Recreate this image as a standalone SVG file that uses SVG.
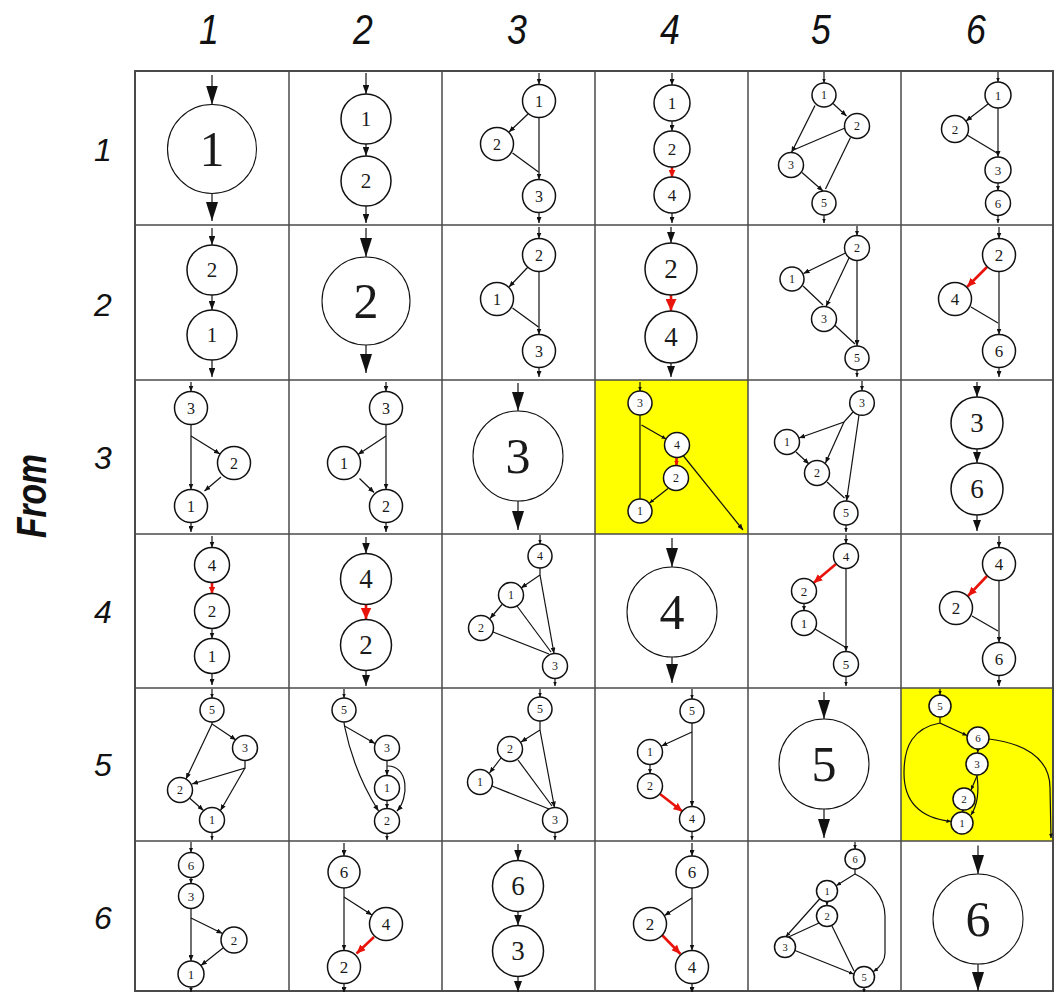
<svg xmlns="http://www.w3.org/2000/svg" width="1054" height="992" viewBox="0 0 1054 992">
<style>
.n circle{fill:#fff;stroke:#111;stroke-width:1.5}
.big circle{stroke-width:1.1}
.n text{font-family:"Liberation Serif","Times New Roman",serif;text-anchor:middle;dominant-baseline:central;fill:#1a1a1a}
.e line,.e path,.e polyline{fill:none;stroke:#111;stroke-width:1.2}
.e .r{stroke:#e8140c;stroke-width:2.6}
.hd{font-family:"Liberation Sans",Arial,sans-serif;font-style:italic;fill:#111;text-anchor:middle}
.grid{fill:none;stroke:#4a4a4a;stroke-width:1.5}
</style>
<defs>
<marker id="aB" viewBox="0 0 10 10" refX="10" refY="5" markerUnits="userSpaceOnUse" markerWidth="19" markerHeight="12" orient="auto" preserveAspectRatio="none"><path d="M0,0L10,5L0,10z" fill="#111"/></marker>
<marker id="aM2" viewBox="0 0 10 10" refX="10" refY="5" markerUnits="userSpaceOnUse" markerWidth="11" markerHeight="8" orient="auto" preserveAspectRatio="none"><path d="M0,0L10,5L0,10z" fill="#111"/></marker>
<marker id="aM" viewBox="0 0 10 10" refX="10" refY="5" markerUnits="userSpaceOnUse" markerWidth="9" markerHeight="6.5" orient="auto" preserveAspectRatio="none"><path d="M0,0L10,5L0,10z" fill="#111"/></marker>
<marker id="aS" viewBox="0 0 10 10" refX="10" refY="5" markerUnits="userSpaceOnUse" markerWidth="6" markerHeight="5" orient="auto" preserveAspectRatio="none"><path d="M0,0L10,5L0,10z" fill="#111"/></marker>
<marker id="aT" viewBox="0 0 10 10" refX="10" refY="5" markerUnits="userSpaceOnUse" markerWidth="4.5" markerHeight="4" orient="auto" preserveAspectRatio="none"><path d="M0,0L10,5L0,10z" fill="#111"/></marker>
<marker id="rL" viewBox="0 0 10 10" refX="10" refY="5" markerUnits="userSpaceOnUse" markerWidth="12" markerHeight="11" orient="auto" preserveAspectRatio="none"><path d="M0,0L10,5L0,10z" fill="#e8140c"/></marker>
<marker id="rM" viewBox="0 0 10 10" refX="10" refY="5" markerUnits="userSpaceOnUse" markerWidth="9" markerHeight="8" orient="auto" preserveAspectRatio="none"><path d="M0,0L10,5L0,10z" fill="#e8140c"/></marker>
<marker id="rS" viewBox="0 0 10 10" refX="10" refY="5" markerUnits="userSpaceOnUse" markerWidth="7" markerHeight="7" orient="auto" preserveAspectRatio="none"><path d="M0,0L10,5L0,10z" fill="#e8140c"/></marker>
<marker id="rT" viewBox="0 0 10 10" refX="10" refY="5" markerUnits="userSpaceOnUse" markerWidth="5" markerHeight="5" orient="auto" preserveAspectRatio="none"><path d="M0,0L10,5L0,10z" fill="#e8140c"/></marker>
</defs>
<rect width="1054" height="992" fill="#fff"/>
<!-- yellow cells -->
<rect x="595" y="380" width="153" height="154" fill="#ffff00"/>
<rect x="901" y="688" width="153" height="153" fill="#ffff00"/>
<!-- headers -->
<g id="col-labels" class="hd" font-size="42">
<text transform="translate(209,44) scale(0.85,1)">1</text>
<text transform="translate(363,44) scale(0.85,1)">2</text>
<text transform="translate(517,44) scale(0.85,1)">3</text>
<text transform="translate(670,44) scale(0.85,1)">4</text>
<text transform="translate(821,44) scale(0.85,1)">5</text>
<text transform="translate(976,44) scale(0.85,1)">6</text>
</g>
<g id="row-labels" class="hd" font-size="32">
<text x="103" y="161">1</text>
<text x="103" y="316">2</text>
<text x="103" y="469">3</text>
<text x="103" y="623">4</text>
<text x="103" y="776">5</text>
<text x="103" y="929">6</text>
</g>
<text id="from-label" class="hd" font-size="42" font-weight="bold" transform="translate(46,496) rotate(-90)" textLength="84" lengthAdjust="spacingAndGlyphs">From</text>
<!-- grid -->
<g id="grid" class="grid">
<rect x="135" y="71" width="918" height="920" stroke-width="2"/>
<line x1="289" y1="71" x2="289" y2="992"/><line x1="442" y1="71" x2="442" y2="992"/><line x1="595" y1="71" x2="595" y2="992"/><line x1="748" y1="71" x2="748" y2="992"/><line x1="901" y1="71" x2="901" y2="992"/>
<line x1="135" y1="225" x2="1054" y2="225"/><line x1="135" y1="380" x2="1054" y2="380"/><line x1="135" y1="534" x2="1054" y2="534"/><line x1="135" y1="688" x2="1054" y2="688"/><line x1="135" y1="841" x2="1054" y2="841"/>
</g>

<!-- ROW 1 -->
<g id="cell-r1c1" transform="translate(135,71)">
<g class="e"><line x1="77" y1="4" x2="77" y2="33.5" marker-end="url(#aB)"/><line x1="77" y1="122.5" x2="77" y2="150" marker-end="url(#aB)"/></g>
<g id="r1c1-n1" class="n big"><circle cx="77" cy="78" r="44.5"/><text x="77" y="78" font-size="50">1</text></g>
</g>
<g id="cell-r1c2" transform="translate(289,71)">
<g class="e"><line x1="77" y1="2" x2="77" y2="23" marker-end="url(#aM)"/><line x1="77" y1="73" x2="77" y2="85" marker-end="url(#aM)"/><line x1="77" y1="135" x2="77" y2="152" marker-end="url(#aM)"/></g>
<g id="r1c2-n1" class="n"><circle cx="77" cy="48" r="25"/><text x="77" y="48" font-size="21">1</text></g>
<g id="r1c2-n2" class="n"><circle cx="77" cy="110" r="25"/><text x="77" y="110" font-size="21">2</text></g>
</g>
<g id="cell-r1c3" transform="translate(442,71)">
<g class="e"><line x1="97" y1="2" x2="97" y2="13.5" marker-end="url(#aS)"/><line x1="86" y1="43" x2="67" y2="61" marker-end="url(#aS)"/><line x1="97" y1="46.5" x2="97" y2="108.5" marker-end="url(#aS)"/><line x1="70.5" y1="82" x2="96.5" y2="101"/><line x1="97" y1="141.5" x2="97" y2="152" marker-end="url(#aS)"/></g>
<g id="r1c3-n1" class="n"><circle cx="97" cy="30" r="16.5"/><text x="97" y="30" font-size="16">1</text></g>
<g id="r1c3-n2" class="n"><circle cx="55" cy="73" r="16.5"/><text x="55" y="73" font-size="16">2</text></g>
<g id="r1c3-n3" class="n"><circle cx="97" cy="125" r="16.5"/><text x="97" y="125" font-size="16">3</text></g>
</g>
<g id="cell-r1c4" transform="translate(595,71)">
<g class="e"><line x1="77" y1="2" x2="77" y2="14" marker-end="url(#aS)"/><line x1="77" y1="50" x2="77" y2="60" marker-end="url(#aS)"/><line class="r" x1="77" y1="96" x2="77" y2="106" marker-end="url(#rS)"/><line x1="77" y1="142" x2="77" y2="152" marker-end="url(#aS)"/></g>
<g id="r1c4-n1" class="n"><circle cx="77" cy="32" r="18"/><text x="77" y="32" font-size="17">1</text></g>
<g id="r1c4-n2" class="n"><circle cx="77" cy="78" r="18"/><text x="77" y="78" font-size="17">2</text></g>
<g id="r1c4-n4" class="n"><circle cx="77" cy="124" r="18"/><text x="77" y="124" font-size="17">4</text></g>
</g>
<g id="cell-r1c5" transform="translate(748,71)">
<g class="e"><line x1="76" y1="1" x2="76" y2="12" marker-end="url(#aT)"/><line x1="85" y1="32.5" x2="98.5" y2="45" marker-end="url(#aS)"/><line x1="67" y1="34.5" x2="43.5" y2="81.5" marker-end="url(#aS)"/><line x1="97" y1="57" x2="45.5" y2="79"/><line x1="54" y1="101.5" x2="75" y2="120" marker-end="url(#aS)"/><line x1="102.5" y1="66.5" x2="77.5" y2="118"/><line x1="76" y1="144" x2="76" y2="152" marker-end="url(#aT)"/></g>
<g id="r1c5-n1" class="n"><circle cx="76" cy="24" r="12"/><text x="76" y="24" font-size="12">1</text></g>
<g id="r1c5-n2" class="n"><circle cx="109" cy="55" r="12.5"/><text x="109" y="55" font-size="12">2</text></g>
<g id="r1c5-n3" class="n"><circle cx="43" cy="94" r="12.5"/><text x="43" y="94" font-size="12">3</text></g>
<g id="r1c5-n5" class="n"><circle cx="76" cy="132" r="12"/><text x="76" y="132" font-size="12">5</text></g>
</g>
<g id="cell-r1c6" transform="translate(901,71)">
<g class="e"><line x1="97" y1="1" x2="97" y2="11" marker-end="url(#aT)"/><line x1="87" y1="33" x2="65" y2="50" marker-end="url(#aS)"/><line x1="97" y1="37" x2="97" y2="86" marker-end="url(#aS)"/><line x1="66" y1="64" x2="96" y2="82"/><line x1="97" y1="112" x2="97" y2="119.5" marker-end="url(#aT)"/><line x1="97" y1="144.5" x2="97" y2="152" marker-end="url(#aT)"/></g>
<g id="r1c6-n1" class="n"><circle cx="97" cy="24" r="13"/><text x="97" y="24" font-size="13">1</text></g>
<g id="r1c6-n2" class="n"><circle cx="54" cy="58" r="13.5"/><text x="54" y="58" font-size="13">2</text></g>
<g id="r1c6-n3" class="n"><circle cx="97" cy="99" r="13"/><text x="97" y="99" font-size="13">3</text></g>
<g id="r1c6-n6" class="n"><circle cx="97" cy="132" r="12.5"/><text x="97" y="132" font-size="13">6</text></g>
</g>

<!-- ROW 2 -->
<g id="cell-r2c1" transform="translate(135,225)">
<g class="e"><line x1="77" y1="3" x2="77" y2="20" marker-end="url(#aM)"/><line x1="77" y1="70" x2="77" y2="85" marker-end="url(#aM)"/><line x1="77" y1="135" x2="77" y2="152" marker-end="url(#aM)"/></g>
<g id="r2c1-n2" class="n"><circle cx="77" cy="45" r="25"/><text x="77" y="45" font-size="21">2</text></g>
<g id="r2c1-n1" class="n"><circle cx="77" cy="110" r="25"/><text x="77" y="110" font-size="21">1</text></g>
</g>
<g id="cell-r2c2" transform="translate(289,225)">
<g class="e"><line x1="77" y1="3" x2="77" y2="32" marker-end="url(#aB)"/><line x1="77" y1="120" x2="77" y2="148" marker-end="url(#aB)"/></g>
<g id="r2c2-n2" class="n big"><circle cx="77" cy="76" r="44"/><text x="77" y="76" font-size="50">2</text></g>
</g>
<g id="cell-r2c3" transform="translate(442,225)">
<g class="e"><line x1="97" y1="2" x2="97" y2="13.5" marker-end="url(#aS)"/><line x1="86" y1="42" x2="67" y2="62" marker-end="url(#aS)"/><line x1="97" y1="46.5" x2="97" y2="109.5" marker-end="url(#aS)"/><line x1="70.5" y1="83" x2="96.5" y2="102"/><line x1="97" y1="142.5" x2="97" y2="152" marker-end="url(#aS)"/></g>
<g id="r2c3-n2" class="n"><circle cx="97" cy="30" r="16.5"/><text x="97" y="30" font-size="16">2</text></g>
<g id="r2c3-n1" class="n"><circle cx="55" cy="74" r="16.5"/><text x="55" y="74" font-size="16">1</text></g>
<g id="r2c3-n3" class="n"><circle cx="97" cy="126" r="16.5"/><text x="97" y="126" font-size="16">3</text></g>
</g>
<g id="cell-r2c4" transform="translate(595,225)">
<g class="e"><line x1="76" y1="2" x2="76" y2="18" marker-end="url(#aM2)"/><line class="r" x1="76" y1="70" x2="76" y2="86" marker-end="url(#rL)"/><line x1="76" y1="138" x2="76" y2="152" marker-end="url(#aM2)"/></g>
<g id="r2c4-n2" class="n"><circle cx="76" cy="44" r="26"/><text x="76" y="44" font-size="27">2</text></g>
<g id="r2c4-n4" class="n"><circle cx="76" cy="112" r="26"/><text x="76" y="112" font-size="27">4</text></g>
</g>
<g id="cell-r2c5" transform="translate(748,225)">
<g class="e"><line x1="109" y1="1" x2="109" y2="10.5" marker-end="url(#aT)"/><line x1="97.5" y1="28" x2="55.5" y2="48.5" marker-end="url(#aS)"/><line x1="101" y1="33" x2="78" y2="81.5" marker-end="url(#aS)"/><line x1="55" y1="61" x2="75" y2="80"/><line x1="86" y1="99.5" x2="107" y2="119"/><line x1="109" y1="35.5" x2="109" y2="121" marker-end="url(#aS)"/><line x1="109" y1="145" x2="109" y2="152" marker-end="url(#aT)"/></g>
<g id="r2c5-n2" class="n"><circle cx="109" cy="23" r="12.5"/><text x="109" y="23" font-size="12">2</text></g>
<g id="r2c5-n1" class="n"><circle cx="44" cy="54" r="12"/><text x="44" y="54" font-size="12">1</text></g>
<g id="r2c5-n3" class="n"><circle cx="76" cy="94" r="12.5"/><text x="76" y="94" font-size="12">3</text></g>
<g id="r2c5-n5" class="n"><circle cx="109" cy="133" r="12"/><text x="109" y="133" font-size="12">5</text></g>
</g>
<g id="cell-r2c6" transform="translate(901,225)">
<g class="e"><line x1="98" y1="2" x2="98" y2="13.5" marker-end="url(#aS)"/><line class="r" x1="86" y1="42" x2="66" y2="62" marker-end="url(#rM)"/><line x1="98" y1="46.5" x2="98" y2="109.5" marker-end="url(#aS)"/><line x1="70" y1="82" x2="97" y2="98"/><line x1="98" y1="142.5" x2="98" y2="152" marker-end="url(#aS)"/></g>
<g id="r2c6-n2" class="n"><circle cx="98" cy="30" r="16.5"/><text x="98" y="30" font-size="17">2</text></g>
<g id="r2c6-n4" class="n"><circle cx="54" cy="74" r="16.5"/><text x="54" y="74" font-size="17">4</text></g>
<g id="r2c6-n6" class="n"><circle cx="98" cy="126" r="16.5"/><text x="98" y="126" font-size="17">6</text></g>
</g>

<!-- ROW 3 -->
<g id="cell-r3c1" transform="translate(135,380)">
<g class="e"><line x1="56" y1="2" x2="56" y2="11.5" marker-end="url(#aS)"/><line x1="56" y1="44.5" x2="56" y2="109.5" marker-end="url(#aS)"/><line x1="56" y1="56" x2="85" y2="74" marker-end="url(#aS)"/><line x1="86" y1="97" x2="69.5" y2="111" marker-end="url(#aS)"/><line x1="56" y1="142.5" x2="56" y2="152" marker-end="url(#aS)"/></g>
<g id="r3c1-n3" class="n"><circle cx="56" cy="28" r="16.5"/><text x="56" y="28" font-size="16">3</text></g>
<g id="r3c1-n2" class="n"><circle cx="99" cy="83" r="16.5"/><text x="99" y="83" font-size="16">2</text></g>
<g id="r3c1-n1" class="n"><circle cx="56" cy="126" r="16.5"/><text x="56" y="126" font-size="16">1</text></g>
</g>
<g id="cell-r3c2" transform="translate(289,380)">
<g class="e"><line x1="97" y1="2" x2="97" y2="11.5" marker-end="url(#aS)"/><line x1="97" y1="44.5" x2="97" y2="109.5" marker-end="url(#aS)"/><line x1="97" y1="56" x2="69" y2="74.5" marker-end="url(#aS)"/><line x1="70.5" y1="98.5" x2="85" y2="112.5" marker-end="url(#aS)"/><line x1="97" y1="142.5" x2="97" y2="152" marker-end="url(#aS)"/></g>
<g id="r3c2-n3" class="n"><circle cx="97" cy="28" r="16.5"/><text x="97" y="28" font-size="16">3</text></g>
<g id="r3c2-n1" class="n"><circle cx="55" cy="83" r="16.5"/><text x="55" y="83" font-size="16">1</text></g>
<g id="r3c2-n2" class="n"><circle cx="97" cy="126" r="16.5"/><text x="97" y="126" font-size="16">2</text></g>
</g>
<g id="cell-r3c3" transform="translate(442,380)">
<g class="e"><line x1="76" y1="3" x2="76" y2="31" marker-end="url(#aB)"/><line x1="76" y1="121" x2="76" y2="150" marker-end="url(#aB)"/></g>
<g id="r3c3-n3" class="n big"><circle cx="76" cy="76" r="45"/><text x="76" y="76" font-size="50">3</text></g>
</g>
<g id="cell-r3c4" transform="translate(595,380)">
<g class="e"><line x1="45" y1="2" x2="45" y2="11" marker-end="url(#aT)"/><line x1="45" y1="35" x2="45" y2="119"/><line x1="46.5" y1="45" x2="71" y2="59" marker-end="url(#aT)"/><line class="r" x1="81.5" y1="77.5" x2="81.5" y2="85.5" stroke-width="1.6" marker-end="url(#rT)"/><line x1="73" y1="108.5" x2="54.5" y2="123" marker-end="url(#aT)"/><line x1="88.5" y1="76" x2="148" y2="150" marker-end="url(#aS)"/></g>
<g id="r3c4-n3" class="n"><circle cx="45" cy="23" r="12"/><text x="45" y="23" font-size="12">3</text></g>
<g id="r3c4-n4" class="n"><circle cx="82" cy="65" r="12.5"/><text x="82" y="65" font-size="12">4</text></g>
<g id="r3c4-n2" class="n"><circle cx="81" cy="98" r="12.5"/><text x="81" y="98" font-size="12">2</text></g>
<g id="r3c4-n1" class="n"><circle cx="45" cy="131" r="12"/><text x="45" y="131" font-size="12">1</text></g>
</g>
<g id="cell-r3c5" transform="translate(748,380)">
<g class="e"><line x1="114" y1="1" x2="114" y2="10.5" marker-end="url(#aT)"/><polyline points="105,32 96,42 51,58" marker-end="url(#aS)"/><line x1="96" y1="42" x2="77.5" y2="83" marker-end="url(#aS)"/><line x1="48" y1="72" x2="61" y2="84" marker-end="url(#aS)"/><line x1="111" y1="35" x2="98.5" y2="121" marker-end="url(#aS)"/><line x1="79" y1="102" x2="96.5" y2="118"/><line x1="98" y1="145" x2="98" y2="152" marker-end="url(#aT)"/></g>
<g id="r3c5-n3" class="n"><circle cx="114" cy="23" r="12.3"/><text x="114" y="23" font-size="12">3</text></g>
<g id="r3c5-n1" class="n"><circle cx="39" cy="62" r="12.5"/><text x="39" y="62" font-size="12">1</text></g>
<g id="r3c5-n2" class="n"><circle cx="69" cy="93" r="12.5"/><text x="69" y="93" font-size="12">2</text></g>
<g id="r3c5-n5" class="n"><circle cx="98" cy="133" r="12"/><text x="98" y="133" font-size="12">5</text></g>
</g>
<g id="cell-r3c6" transform="translate(901,380)">
<g class="e"><line x1="76" y1="2" x2="76" y2="17" marker-end="url(#aM2)"/><line x1="76" y1="69" x2="76" y2="83" marker-end="url(#aM2)"/><line x1="76" y1="135" x2="76" y2="151" marker-end="url(#aM2)"/></g>
<g id="r3c6-n3" class="n"><circle cx="76" cy="43" r="26"/><text x="76" y="43" font-size="27">3</text></g>
<g id="r3c6-n6" class="n"><circle cx="76" cy="109" r="26"/><text x="76" y="109" font-size="27">6</text></g>
</g>

<!-- ROW 4 -->
<g id="cell-r4c1" transform="translate(135,534)">
<g class="e"><line x1="77" y1="2" x2="77" y2="13.5" marker-end="url(#aS)"/><line class="r" x1="77" y1="48.5" x2="77" y2="59.5" marker-end="url(#rS)"/><line x1="77" y1="94.5" x2="77" y2="104.5" marker-end="url(#aS)"/><line x1="77" y1="139.5" x2="77" y2="151" marker-end="url(#aS)"/></g>
<g id="r4c1-n4" class="n"><circle cx="77" cy="31" r="17.5"/><text x="77" y="31" font-size="17">4</text></g>
<g id="r4c1-n2" class="n"><circle cx="77" cy="77" r="17.5"/><text x="77" y="77" font-size="17">2</text></g>
<g id="r4c1-n1" class="n"><circle cx="77" cy="122" r="17.5"/><text x="77" y="122" font-size="17">1</text></g>
</g>
<g id="cell-r4c2" transform="translate(289,534)">
<g class="e"><line x1="77" y1="3" x2="77" y2="19.5" marker-end="url(#aM2)"/><line class="r" x1="77" y1="70.5" x2="77" y2="85.5" marker-end="url(#rL)"/><line x1="77" y1="136.5" x2="77" y2="152" marker-end="url(#aM2)"/></g>
<g id="r4c2-n4" class="n"><circle cx="77" cy="45" r="25.5"/><text x="77" y="45" font-size="27">4</text></g>
<g id="r4c2-n2" class="n"><circle cx="77" cy="111" r="25.5"/><text x="77" y="111" font-size="27">2</text></g>
</g>
<g id="cell-r4c3" transform="translate(442,534)">
<g class="e"><line x1="98" y1="1" x2="98" y2="10" marker-end="url(#aT)"/><polyline points="98,34 98,41 79,54" marker-end="url(#aS)"/><line x1="98" y1="41" x2="112" y2="119.5" marker-end="url(#aS)"/><line x1="60" y1="70.5" x2="48" y2="84.5" marker-end="url(#aS)"/><line x1="75" y1="72" x2="109" y2="118"/><line x1="51" y1="98" x2="107" y2="120"/><line x1="113" y1="144.5" x2="113" y2="152" marker-end="url(#aT)"/></g>
<g id="r4c3-n4" class="n"><circle cx="98" cy="22" r="12"/><text x="98" y="22" font-size="12">4</text></g>
<g id="r4c3-n1" class="n"><circle cx="69" cy="61" r="12.5"/><text x="69" y="61" font-size="12">1</text></g>
<g id="r4c3-n2" class="n"><circle cx="39" cy="94" r="12.5"/><text x="39" y="94" font-size="12">2</text></g>
<g id="r4c3-n3" class="n"><circle cx="113" cy="132" r="12.5"/><text x="113" y="132" font-size="12">3</text></g>
</g>
<g id="cell-r4c4" transform="translate(595,534)">
<g class="e"><line x1="77" y1="4" x2="77" y2="33" marker-end="url(#aB)"/><line x1="77" y1="123" x2="77" y2="149" marker-end="url(#aB)"/></g>
<g id="r4c4-n4" class="n big"><circle cx="77" cy="78" r="45"/><text x="77" y="78" font-size="50">4</text></g>
</g>
<g id="cell-r4c5" transform="translate(748,534)">
<g class="e"><line x1="98" y1="1" x2="98" y2="9.5" marker-end="url(#aT)"/><line class="r" x1="88" y1="30" x2="65.5" y2="49" marker-end="url(#rM)"/><line x1="98" y1="34.5" x2="98" y2="117.5" marker-end="url(#aS)"/><line x1="56" y1="69.5" x2="56" y2="76.5" marker-end="url(#aT)"/><line x1="67" y1="95" x2="97" y2="113"/><line x1="98" y1="142.5" x2="98" y2="152" marker-end="url(#aT)"/></g>
<g id="r4c5-n4" class="n"><circle cx="98" cy="22" r="12.5"/><text x="98" y="22" font-size="13">4</text></g>
<g id="r4c5-n2" class="n"><circle cx="56" cy="57" r="12.5"/><text x="56" y="57" font-size="13">2</text></g>
<g id="r4c5-n1" class="n"><circle cx="56" cy="89" r="12.5"/><text x="56" y="89" font-size="13">1</text></g>
<g id="r4c5-n5" class="n"><circle cx="98" cy="130" r="12.5"/><text x="98" y="130" font-size="13">5</text></g>
</g>
<g id="cell-r4c6" transform="translate(901,534)">
<g class="e"><line x1="98" y1="2" x2="98" y2="13.5" marker-end="url(#aS)"/><line class="r" x1="86" y1="42" x2="67" y2="62" marker-end="url(#rM)"/><line x1="98" y1="46.5" x2="98" y2="108.5" marker-end="url(#aS)"/><line x1="71" y1="82" x2="97" y2="97"/><line x1="98" y1="141.5" x2="98" y2="152" marker-end="url(#aS)"/></g>
<g id="r4c6-n4" class="n"><circle cx="98" cy="30" r="16.5"/><text x="98" y="30" font-size="17">4</text></g>
<g id="r4c6-n2" class="n"><circle cx="55" cy="74" r="16.5"/><text x="55" y="74" font-size="17">2</text></g>
<g id="r4c6-n6" class="n"><circle cx="98" cy="125" r="16.5"/><text x="98" y="125" font-size="17">6</text></g>
</g>

<!-- ROW 5 -->
<g id="cell-r5c1" transform="translate(135,688)">
<g class="e"><line x1="77" y1="1" x2="77" y2="10" marker-end="url(#aT)"/><polyline points="77,34 77,36 101,52" marker-end="url(#aS)"/><line x1="77" y1="36" x2="51" y2="91" marker-end="url(#aS)"/><polyline points="110,72.5 110,80 57,96" marker-end="url(#aS)"/><line x1="110" y1="80" x2="85.5" y2="122.5" marker-end="url(#aS)"/><line x1="54.5" y1="110" x2="68.5" y2="122.5" marker-end="url(#aS)"/><line x1="77" y1="144.5" x2="77" y2="152" marker-end="url(#aT)"/></g>
<g id="r5c1-n5" class="n"><circle cx="77" cy="22" r="12"/><text x="77" y="22" font-size="12">5</text></g>
<g id="r5c1-n3" class="n"><circle cx="110" cy="60" r="12.5"/><text x="110" y="60" font-size="12">3</text></g>
<g id="r5c1-n2" class="n"><circle cx="45" cy="102" r="12.5"/><text x="45" y="102" font-size="12">2</text></g>
<g id="r5c1-n1" class="n"><circle cx="77" cy="132" r="12.5"/><text x="77" y="132" font-size="12">1</text></g>
</g>
<g id="cell-r5c2" transform="translate(289,688)">
<g class="e"><line x1="55" y1="1" x2="55" y2="10" marker-end="url(#aT)"/><polyline points="55,34 55.5,38 86,55.5" marker-end="url(#aS)"/><path d="M55.5,38 C62,70 75,100 89.5,123" marker-end="url(#aS)"/><line x1="98" y1="72.5" x2="98" y2="87.5" marker-end="url(#aS)"/><line x1="98" y1="112.5" x2="98" y2="120.5" marker-end="url(#aT)"/><path d="M98.5,78 C120,78 120,110 108,123" marker-end="url(#aS)"/><line x1="98" y1="145.5" x2="98" y2="152" marker-end="url(#aT)"/></g>
<g id="r5c2-n5" class="n"><circle cx="55" cy="22" r="12"/><text x="55" y="22" font-size="12">5</text></g>
<g id="r5c2-n3" class="n"><circle cx="98" cy="60" r="12.5"/><text x="98" y="60" font-size="12">3</text></g>
<g id="r5c2-n1" class="n"><circle cx="98" cy="100" r="12.5"/><text x="98" y="100" font-size="12">1</text></g>
<g id="r5c2-n2" class="n"><circle cx="98" cy="133" r="12.5"/><text x="98" y="133" font-size="12">2</text></g>
</g>
<g id="cell-r5c3" transform="translate(442,688)">
<g class="e"><line x1="98" y1="1" x2="98" y2="9" marker-end="url(#aT)"/><polyline points="98,33 98,42 79,54" marker-end="url(#aS)"/><line x1="98" y1="42" x2="112.5" y2="119.5" marker-end="url(#aS)"/><line x1="59" y1="70" x2="47.5" y2="85" marker-end="url(#aS)"/><line x1="76" y1="72" x2="110" y2="118"/><line x1="50" y1="98" x2="107" y2="121"/><line x1="113" y1="144.5" x2="113" y2="152" marker-end="url(#aT)"/></g>
<g id="r5c3-n5" class="n"><circle cx="98" cy="21" r="12"/><text x="98" y="21" font-size="12">5</text></g>
<g id="r5c3-n2" class="n"><circle cx="68" cy="61" r="12.5"/><text x="68" y="61" font-size="12">2</text></g>
<g id="r5c3-n1" class="n"><circle cx="38" cy="94" r="12.5"/><text x="38" y="94" font-size="12">1</text></g>
<g id="r5c3-n3" class="n"><circle cx="113" cy="132" r="12.5"/><text x="113" y="132" font-size="12">3</text></g>
</g>
<g id="cell-r5c4" transform="translate(595,688)">
<g class="e"><line x1="97" y1="1" x2="97" y2="11" marker-end="url(#aT)"/><line x1="97" y1="35" x2="97" y2="118.5" marker-end="url(#aS)"/><line x1="97" y1="44" x2="66.5" y2="58" marker-end="url(#aS)"/><line x1="55" y1="76.5" x2="55" y2="85.5" marker-end="url(#aT)"/><line class="r" x1="65" y1="106" x2="87.5" y2="123.5" marker-end="url(#rM)"/><line x1="97" y1="143.5" x2="97" y2="152" marker-end="url(#aT)"/></g>
<g id="r5c4-n5" class="n"><circle cx="97" cy="23" r="12"/><text x="97" y="23" font-size="12">5</text></g>
<g id="r5c4-n1" class="n"><circle cx="55" cy="64" r="12.5"/><text x="55" y="64" font-size="12">1</text></g>
<g id="r5c4-n2" class="n"><circle cx="55" cy="98" r="12.5"/><text x="55" y="98" font-size="12">2</text></g>
<g id="r5c4-n4" class="n"><circle cx="97" cy="131" r="12.5"/><text x="97" y="131" font-size="12">4</text></g>
</g>
<g id="cell-r5c5" transform="translate(748,688)">
<g class="e"><line x1="76" y1="4" x2="76" y2="31" marker-end="url(#aB)"/><line x1="76" y1="121" x2="76" y2="150" marker-end="url(#aB)"/></g>
<g id="r5c5-n5" class="n big"><circle cx="76" cy="76" r="45"/><text x="76" y="76" font-size="50">5</text></g>
</g>
<g id="cell-r5c6" transform="translate(901,688)">
<g class="e"><line x1="39" y1="1" x2="39" y2="7" marker-end="url(#aT)"/><polyline points="39,29 39,35 66,47.5" marker-end="url(#aT)"/><path d="M39,35 C12,40 3,58 3,85 C3,115 20,130 50,133.5" marker-end="url(#aT)"/><line x1="77" y1="61" x2="76.5" y2="65" marker-end="url(#aT)"/><polyline points="76,87 76,88 70,102" marker-end="url(#aT)"/><path d="M76,88 C78,102 77,116 70,127" marker-end="url(#aT)"/><line x1="62" y1="121.5" x2="61.5" y2="124.5" marker-end="url(#aT)"/><path d="M88,51 C120,55 149,68 149,100 L150,150" marker-end="url(#aT)"/></g>
<g id="r5c6-n5" class="n"><circle cx="39" cy="18" r="11"/><text x="39" y="18" font-size="11">5</text></g>
<g id="r5c6-n6" class="n"><circle cx="77" cy="50" r="11"/><text x="77" y="50" font-size="11">6</text></g>
<g id="r5c6-n3" class="n"><circle cx="76" cy="76" r="11"/><text x="76" y="76" font-size="11">3</text></g>
<g id="r5c6-n2" class="n"><circle cx="63" cy="111" r="11"/><text x="63" y="111" font-size="11">2</text></g>
<g id="r5c6-n1" class="n"><circle cx="61" cy="135" r="11"/><text x="61" y="135" font-size="11">1</text></g>
</g>

<!-- ROW 6 -->
<g id="cell-r6c1" transform="translate(135,841)">
<g class="e"><line x1="56" y1="1" x2="56" y2="11.5" marker-end="url(#aT)"/><line x1="56" y1="36.5" x2="56" y2="42.5" marker-end="url(#aT)"/><line x1="56" y1="67.5" x2="56" y2="120" marker-end="url(#aS)"/><line x1="56" y1="77" x2="87.5" y2="92.5" marker-end="url(#aS)"/><line x1="88" y1="107" x2="66" y2="124.5" marker-end="url(#aS)"/><line x1="56" y1="146" x2="56" y2="151" marker-end="url(#aT)"/></g>
<g id="r6c1-n6" class="n"><circle cx="56" cy="24" r="12.5"/><text x="56" y="24" font-size="13">6</text></g>
<g id="r6c1-n3" class="n"><circle cx="56" cy="55" r="12.5"/><text x="56" y="55" font-size="13">3</text></g>
<g id="r6c1-n2" class="n"><circle cx="99" cy="99" r="13"/><text x="99" y="99" font-size="13">2</text></g>
<g id="r6c1-n1" class="n"><circle cx="56" cy="133" r="13"/><text x="56" y="133" font-size="13">1</text></g>
</g>
<g id="cell-r6c2" transform="translate(289,841)">
<g class="e"><line x1="55" y1="2" x2="55" y2="15" marker-end="url(#aS)"/><line x1="55" y1="47" x2="55" y2="109.5" marker-end="url(#aS)"/><line x1="55" y1="56" x2="83" y2="74" marker-end="url(#aS)"/><line class="r" x1="85" y1="96" x2="67.5" y2="112.5" marker-end="url(#rM)"/><line x1="55" y1="142.5" x2="55" y2="152" marker-end="url(#aS)"/></g>
<g id="r6c2-n6" class="n"><circle cx="55" cy="31" r="16"/><text x="55" y="31" font-size="17">6</text></g>
<g id="r6c2-n4" class="n"><circle cx="97" cy="83" r="16.5"/><text x="97" y="83" font-size="17">4</text></g>
<g id="r6c2-n2" class="n"><circle cx="55" cy="126" r="16.5"/><text x="55" y="126" font-size="17">2</text></g>
</g>
<g id="cell-r6c3" transform="translate(442,841)">
<g class="e"><line x1="76" y1="3" x2="76" y2="19.5" marker-end="url(#aM2)"/><line x1="76" y1="70.5" x2="76" y2="84.5" marker-end="url(#aM2)"/><line x1="76" y1="135.5" x2="76" y2="151" marker-end="url(#aM2)"/></g>
<g id="r6c3-n6" class="n"><circle cx="76" cy="45" r="25.5"/><text x="76" y="45" font-size="27">6</text></g>
<g id="r6c3-n3" class="n"><circle cx="76" cy="110" r="25.5"/><text x="76" y="110" font-size="27">3</text></g>
</g>
<g id="cell-r6c4" transform="translate(595,841)">
<g class="e"><line x1="97" y1="2" x2="97" y2="15" marker-end="url(#aS)"/><line x1="97" y1="47" x2="97" y2="109.5" marker-end="url(#aS)"/><line x1="97" y1="57" x2="69.5" y2="74.5" marker-end="url(#aS)"/><line class="r" x1="67" y1="94" x2="85.5" y2="113" marker-end="url(#rM)"/><line x1="97" y1="142.5" x2="97" y2="152" marker-end="url(#aS)"/></g>
<g id="r6c4-n6" class="n"><circle cx="97" cy="31" r="16"/><text x="97" y="31" font-size="17">6</text></g>
<g id="r6c4-n2" class="n"><circle cx="55" cy="83" r="16.5"/><text x="55" y="83" font-size="17">2</text></g>
<g id="r6c4-n4" class="n"><circle cx="97" cy="126" r="16.5"/><text x="97" y="126" font-size="17">4</text></g>
</g>
<g id="cell-r6c5" transform="translate(748,841)">
<g class="e"><line x1="107" y1="1" x2="107" y2="8" marker-end="url(#aT)"/><polyline points="107,28 107,33 88.5,44.5" marker-end="url(#aT)"/><path d="M107,33 C122,40 137,55 137,75 L137,112 C137,120 132,126 125.5,130.5" marker-end="url(#aT)"/><line x1="79" y1="60.5" x2="79" y2="64.5" marker-end="url(#aT)"/><line x1="72" y1="57.5" x2="38" y2="95.5" marker-end="url(#aT)"/><line x1="71" y1="82" x2="40.5" y2="96"/><line x1="47" y1="109.5" x2="105.5" y2="133" marker-end="url(#aT)"/><line x1="84" y1="85" x2="106" y2="130"/><line x1="116" y1="146.5" x2="116" y2="152" marker-end="url(#aT)"/></g>
<g id="r6c5-n6" class="n"><circle cx="107" cy="18" r="10"/><text x="107" y="18" font-size="10.5">6</text></g>
<g id="r6c5-n1" class="n"><circle cx="79" cy="50" r="10.5"/><text x="79" y="50" font-size="10.5">1</text></g>
<g id="r6c5-n2" class="n"><circle cx="79" cy="75" r="10.5"/><text x="79" y="75" font-size="10.5">2</text></g>
<g id="r6c5-n3" class="n"><circle cx="37" cy="106" r="10.5"/><text x="37" y="106" font-size="10.5">3</text></g>
<g id="r6c5-n5" class="n"><circle cx="116" cy="136" r="10.5"/><text x="116" y="136" font-size="10.5">5</text></g>
</g>
<g id="cell-r6c6" transform="translate(901,841)">
<g class="e"><line x1="77" y1="4.5" x2="77" y2="33" marker-end="url(#aB)"/><line x1="77" y1="123" x2="77" y2="150" marker-end="url(#aB)"/></g>
<g id="r6c6-n6" class="n big"><circle cx="77" cy="78" r="45"/><text x="77" y="78" font-size="50">6</text></g>
</g>
</svg>
